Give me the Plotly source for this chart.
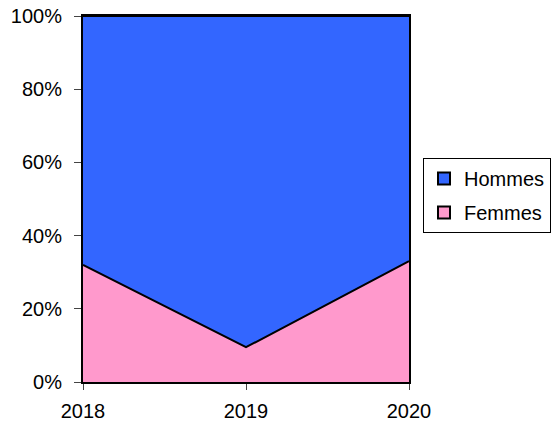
import plotly.graph_objects as go

years = [2018, 2019, 2020]
femmes = [32.0, 9.5, 33.0]
hommes = [68.0, 90.5, 67.0]
tick_vals = [0, 20, 40, 60, 80, 100]
tick_text = ["0%", "20%", "40%", "60%", "80%", "100%"]
series_names = ["Femmes", "Hommes"]
series_colors = ["#FF99CC", "#3366FF"]

fig = go.Figure()
for name, vals, col in zip(series_names, [femmes, hommes], series_colors):
    fig.add_trace(go.Scatter(x=years, y=vals, name=name, mode="lines",
                             stackgroup="one", fillcolor=col, showlegend=False,
                             line=dict(color="black", width=2)))
# legend-only entries with square swatches (Hommes listed first)
for rank, (name, col) in enumerate(zip(series_names[::-1], series_colors[::-1])):
    fig.add_trace(go.Scatter(x=[None], y=[None], name=name, mode="markers",
                             legendgroup=name, legendrank=rank + 1,
                             marker=dict(symbol="square", size=14, color=col,
                                         line=dict(color="black", width=2))))

fig.update_layout(
    width=556, height=428,
    margin=dict(l=83, r=147, t=16, b=46, autoexpand=False),
    paper_bgcolor="white", plot_bgcolor="white",
    font=dict(family="Liberation Sans, Arial, sans-serif", size=20, color="black"),
    showlegend=True,
    legend=dict(x=423 / 556, y=1 - 158 / 428, xref="container", yref="container",
                xanchor="left", yanchor="top",
                traceorder="grouped", bordercolor="black", borderwidth=1,
                bgcolor="white", font=dict(size=20), itemwidth=30,
                tracegroupgap=5, itemsizing="constant"),
)
fig.update_xaxes(range=[2018, 2020], tickvals=years, ticktext=[str(y) for y in years],
                 showgrid=False, zeroline=False, showline=True, linecolor="black",
                 linewidth=2, mirror=True, ticks="outside", ticklen=6,
                 tickcolor="#444", tickwidth=1, automargin=False,
                 ticklabelstandoff=4)
fig.update_yaxes(range=[0, 100], tickvals=tick_vals, ticktext=tick_text,
                 showgrid=False, zeroline=False, showline=True, linecolor="black",
                 linewidth=2, mirror=True, ticks="outside", ticklen=7,
                 tickcolor="#444", tickwidth=1, automargin=False,
                 ticklabelstandoff=8)

fig.write_html("out.html", post_script="document.body.style.margin='0';",
               config={"displayModeBar": False})
